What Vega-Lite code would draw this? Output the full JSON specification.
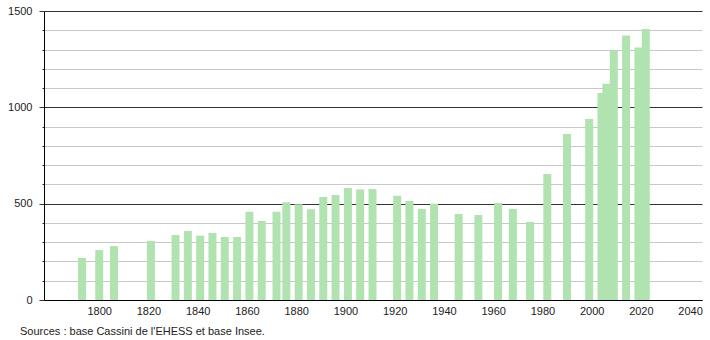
{
  "$schema": "https://vega.github.io/schema/vega-lite/v6.json",
  "autosize": "none",
  "width": 658,
  "height": 289,
  "padding": {"left": 44, "top": 11, "right": 8, "bottom": 40},
  "background": "white",
  "config": {"view": {"stroke": null}, "font": "Liberation Sans"},
  "title": {
    "text": "Sources : base Cassini de l'EHESS et base Insee.",
    "orient": "bottom",
    "anchor": "start",
    "frame": "group",
    "dx": -24,
    "offset": 10,
    "fontSize": 11,
    "fontWeight": "normal",
    "color": "#222"
  },
  "data": {
    "values": [
      {"year": 1793, "pop": 218},
      {"year": 1800, "pop": 259},
      {"year": 1806, "pop": 280},
      {"year": 1821, "pop": 306},
      {"year": 1831, "pop": 337},
      {"year": 1836, "pop": 358},
      {"year": 1841, "pop": 334},
      {"year": 1846, "pop": 348},
      {"year": 1851, "pop": 327},
      {"year": 1856, "pop": 327},
      {"year": 1861, "pop": 458},
      {"year": 1866, "pop": 410},
      {"year": 1872, "pop": 458},
      {"year": 1876, "pop": 508},
      {"year": 1881, "pop": 497},
      {"year": 1886, "pop": 471},
      {"year": 1891, "pop": 535},
      {"year": 1896, "pop": 545},
      {"year": 1901, "pop": 581},
      {"year": 1906, "pop": 574},
      {"year": 1911, "pop": 576},
      {"year": 1921, "pop": 541},
      {"year": 1926, "pop": 514},
      {"year": 1931, "pop": 472},
      {"year": 1936, "pop": 500},
      {"year": 1946, "pop": 447},
      {"year": 1954, "pop": 441},
      {"year": 1962, "pop": 503},
      {"year": 1968, "pop": 472},
      {"year": 1975, "pop": 405},
      {"year": 1982, "pop": 654},
      {"year": 1990, "pop": 862},
      {"year": 1999, "pop": 939},
      {"year": 2004, "pop": 1075},
      {"year": 2006, "pop": 1123},
      {"year": 2009, "pop": 1292},
      {"year": 2014, "pop": 1373},
      {"year": 2019, "pop": 1311},
      {"year": 2022, "pop": 1406}
    ]
  },
  "mark": {"type": "bar", "width": 8, "color": "#b0e3b0"},
  "encoding": {
    "x": {
      "field": "year",
      "type": "quantitative",
      "scale": {"domain": [1779.6, 2042.8], "nice": false, "zero": false},
      "axis": {
        "title": null,
        "values": [1800, 1820, 1840, 1860, 1880, 1900, 1920, 1940, 1960, 1980, 2000, 2020, 2040],
        "format": "d",
        "grid": false,
        "ticks": false,
        "labelPadding": 5,
        "labelFontSize": 11,
        "labelColor": "#222",
        "domainColor": "#000",
        "domainWidth": 1,
        "labelFlush": false,
        "labelOverlap": false
      }
    },
    "y": {
      "field": "pop",
      "type": "quantitative",
      "scale": {"domain": [0, 1500], "nice": false},
      "axis": {
        "title": null,
        "values": [0, 100, 200, 300, 400, 500, 600, 700, 800, 900, 1000, 1100, 1200, 1300, 1400, 1500],
        "labelExpr": "datum.value % 500 === 0 ? datum.label : ''",
        "format": "d",
        "grid": true,
        "gridColor": {"condition": {"test": "datum.value % 500 === 0", "value": "#333"}, "value": "#c8c8c8"},
        "gridWidth": 1,
        "tickColor": "#333",
        "tickSize": {"condition": {"test": "datum.value % 500 === 0", "value": 5}, "value": 2},
        "labelPadding": 7,
        "labelFontSize": 11,
        "labelColor": "#222",
        "domainColor": "#000",
        "labelFlush": false,
        "labelOverlap": false
      }
    }
  }
}
